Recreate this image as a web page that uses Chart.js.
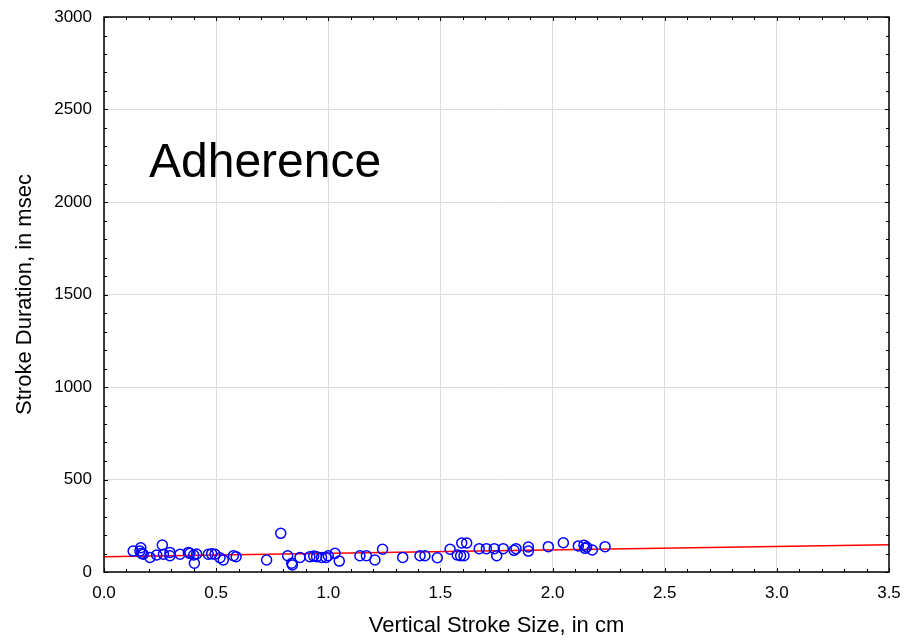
<!DOCTYPE html>
<html>
<head>
<meta charset="utf-8">
<style>
  html, body { margin: 0; padding: 0; background: #fff; }
  #wrap { width: 908px; height: 642px; }
</style>
<script src="https://cdn.jsdelivr.net/npm/chart.js@4/dist/chart.umd.min.js"></script>
</head>
<body>
<div id="wrap"><canvas id="chart" width="908" height="642"></canvas></div>
<script>
// stroke size (cm) and duration (msec)
var strokeSize = [
  0.13, 0.16, 0.164, 0.168, 0.175, 0.205, 0.235, 0.26, 0.265, 0.294,
  0.294, 0.339, 0.376, 0.383, 0.40, 0.403, 0.413, 0.465, 0.48, 0.495,
  0.517, 0.532, 0.577, 0.589, 0.725, 0.788, 0.819, 0.837, 0.84, 0.874,
  0.918, 0.935, 0.948, 0.97, 0.99, 1.0, 1.03, 1.049, 1.141, 1.17,
  1.208, 1.242, 1.332, 1.409, 1.431, 1.486, 1.543, 1.575, 1.59, 1.595,
  1.605, 1.617, 1.673, 1.705, 1.74, 1.751, 1.78, 1.828, 1.837, 1.892,
  1.892, 1.981, 2.048, 2.115, 2.14, 2.145, 2.152, 2.177, 2.234
];
var strokeDuration = [
  113, 113, 131, 101, 96, 79, 92, 146, 96, 106,
  88, 96, 106, 101, 92, 47, 97, 96, 98, 96,
  77, 65, 88, 83, 65, 209, 88, 47, 38, 79,
  83, 86, 83, 79, 79, 88, 101, 59, 88, 88,
  65, 123, 79, 88, 88, 77, 123, 92, 88, 157,
  88, 157, 126, 126, 126, 88, 126, 117, 126, 135,
  113, 137, 158, 141, 145, 128, 135, 119, 137
];
// fitted line end points
var fitX = [0, 3.5];
var fitY = [82, 147];

var xTicks = [0, 0.5, 1, 1.5, 2, 2.5, 3, 3.5];
var yTicks = [0, 500, 1000, 1500, 2000, 2500, 3000];

var points = strokeSize.map(function (x, i) { return { x: x, y: strokeDuration[i] }; });
var fitLine = fitX.map(function (x, i) { return { x: x, y: fitY[i] }; });

// frame with inward ticks on all four sides, plus the "Adherence" label
var framePlugin = {
  id: "frame",
  afterDraw: function (chart) {
    var ctx = chart.ctx;
    var a = chart.chartArea;
    var xs = chart.scales.x, ys = chart.scales.y;
    ctx.save();
    ctx.strokeStyle = "#000";
    ctx.lineWidth = 1;
    ctx.beginPath();
    var v, px, len;
    for (v = 0; v <= 35; v++) {
      px = Math.round(xs.getPixelForValue(v / 10)) + 0.5;
      len = v % 5 === 0 ? 4 : 3;
      ctx.moveTo(px, a.bottom); ctx.lineTo(px, a.bottom - len);
      ctx.moveTo(px, a.top); ctx.lineTo(px, a.top + len);
    }
    for (v = 0; v <= 30; v++) {
      px = Math.round(ys.getPixelForValue(v * 100)) + 0.5;
      len = v % 5 === 0 ? 4 : 3;
      ctx.moveTo(a.left, px); ctx.lineTo(a.left + len, px);
      ctx.moveTo(a.right, px); ctx.lineTo(a.right - len, px);
    }
    ctx.stroke();
    ctx.lineWidth = 1.5;
    ctx.strokeRect(a.left, a.top, a.right - a.left, a.bottom - a.top);

    ctx.fillStyle = "#000";
    ctx.font = "48px 'Liberation Sans', Arial, sans-serif";
    ctx.textBaseline = "alphabetic";
    ctx.textAlign = "left";
    ctx.fillText("Adherence", a.left + 45, a.top + 160);
    ctx.restore();
  }
};

var fontFamily = "'Liberation Sans', Arial, sans-serif";

function noEdgePadding(s) {
  s.paddingTop = 0;
  s.paddingBottom = 0;
  s.paddingLeft = 0;
  s.paddingRight = 0;
}

new Chart(document.getElementById("chart"), {
  type: "scatter",
  data: {
    datasets: [
      {
        label: "data",
        data: points,
        borderColor: "#0000ff",
        backgroundColor: "rgba(0,0,0,0)",
        borderWidth: 1.5,
        pointRadius: 5,
        pointStyle: "circle",
        order: 1
      },
      {
        label: "fit",
        type: "line",
        data: fitLine,
        borderColor: "#ff0000",
        borderWidth: 1.5,
        pointRadius: 0,
        fill: false,
        order: 2
      }
    ]
  },
  options: {
    responsive: false,
    animation: false,
    layout: { padding: { left: 0, right: 19, top: 17, bottom: 0 } },
    plugins: {
      legend: { display: false },
      tooltip: { enabled: false }
    },
    scales: {
      x: {
        type: "linear",
        min: 0,
        max: 3.5,
        afterFit: function (s) { s.height = 70; noEdgePadding(s); },
        afterBuildTicks: function (s) { s.ticks = xTicks.map(function (v) { return { value: v }; }); },
        ticks: {
          color: "#000",
          padding: 11,
          maxRotation: 0,
          font: { family: fontFamily, size: 17 },
          callback: function (v) { return Number(v).toFixed(1); }
        },
        grid: { color: "#dcdcdc", lineWidth: 1, drawTicks: false },
        border: { display: false },
        title: {
          display: true,
          text: "Vertical Stroke Size, in cm",
          color: "#000",
          font: { family: fontFamily, size: 22 },
          padding: { top: 0, bottom: 3 }
        }
      },
      y: {
        type: "linear",
        min: 0,
        max: 3000,
        afterFit: function (s) { s.width = 104; noEdgePadding(s); },
        afterBuildTicks: function (s) { s.ticks = yTicks.map(function (v) { return { value: v }; }); },
        ticks: {
          color: "#000",
          padding: 12,
          font: { family: fontFamily, size: 17 },
          callback: function (v) { return String(v); }
        },
        grid: { color: "#dcdcdc", lineWidth: 1, drawTicks: false },
        border: { display: false },
        title: {
          display: true,
          text: "Stroke Duration, in msec",
          color: "#000",
          font: { family: fontFamily, size: 22 },
          padding: { top: 12, bottom: 0 }
        }
      }
    }
  },
  plugins: [framePlugin]
});
</script>
</body>
</html>
